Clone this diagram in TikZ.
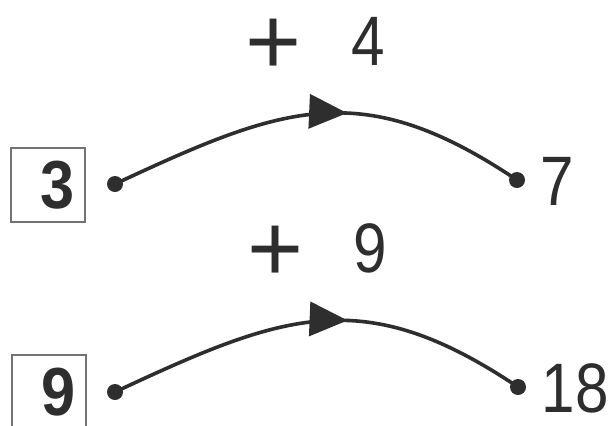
\documentclass[tikz,border=0pt]{standalone}
\usepackage{fontspec}
\setmainfont{Liberation Sans}
\newfontfamily\estrecha[FakeStretch=0.86]{Liberation Sans}
\newfontfamily\cajafont[FakeStretch=0.9]{Liberation Sans}
\usetikzlibrary{arrows.meta,decorations.markings}
\definecolor{tinta}{HTML}{2E2E2E}
\tikzset{
	punto/.style={circle, fill=tinta, inner sep=0pt, minimum size=8pt},
	caja/.style={draw=black!55, line width=1pt, text width=27pt, align=right,
		inner xsep=5pt, minimum height=37pt, font=\cajafont\fontsize{34}{34}\selectfont\bfseries, text=tinta},
	cifra/.style={inner sep=0pt, anchor=base west, font=\estrecha\fontsize{35}{40}\selectfont, text=tinta},
	salto/.style={line width=1.8pt, draw=tinta, postaction={decorate},
		decoration={markings, mark=at position 0.57 with {\arrow{Triangle[length=19pt,width=17pt]}}}}
}
\newcommand{\mas}{{\rmfamily\fontsize{48}{48}\selectfont\raisebox{-4.5pt}{+}}\hspace{25pt}}
\begin{document}
		\begin{tikzpicture}[x=0.5pt, y=-0.5pt]
			\clip (0,0) rectangle (611,425);
			\fill[white] (0,0) rectangle (611,425);
			
			% Primera fila
			\node[caja] (n3) at (47.5,185) {3};
			\node[punto] (a1) at (115,184) {};
			\node[punto] (b1) at (517,180) {};
			\node[cifra] (r1) at (540,205) {7};
			\node[cifra] (s1) at (244.6,65) {\mas 4};
			\draw[salto] (a1.center) .. controls +(169,-79) and +(-155,-104) .. (b1.center);
			
			% Segunda fila
			\node[caja, minimum height=37.5pt] (n9) at (49,392.5) {9};
			\node[punto] (a2) at (115,392) {};
			\node[punto] (b2) at (518,387) {};
			\node[cifra] (r2) at (541.5,412) {18};
			\node[cifra] (s2) at (246.6,272) {\mas 9};
			\draw[salto] (a2.center) .. controls +(169,-79) and +(-155,-104) .. (b2.center);
		\end{tikzpicture}
\end{document}
